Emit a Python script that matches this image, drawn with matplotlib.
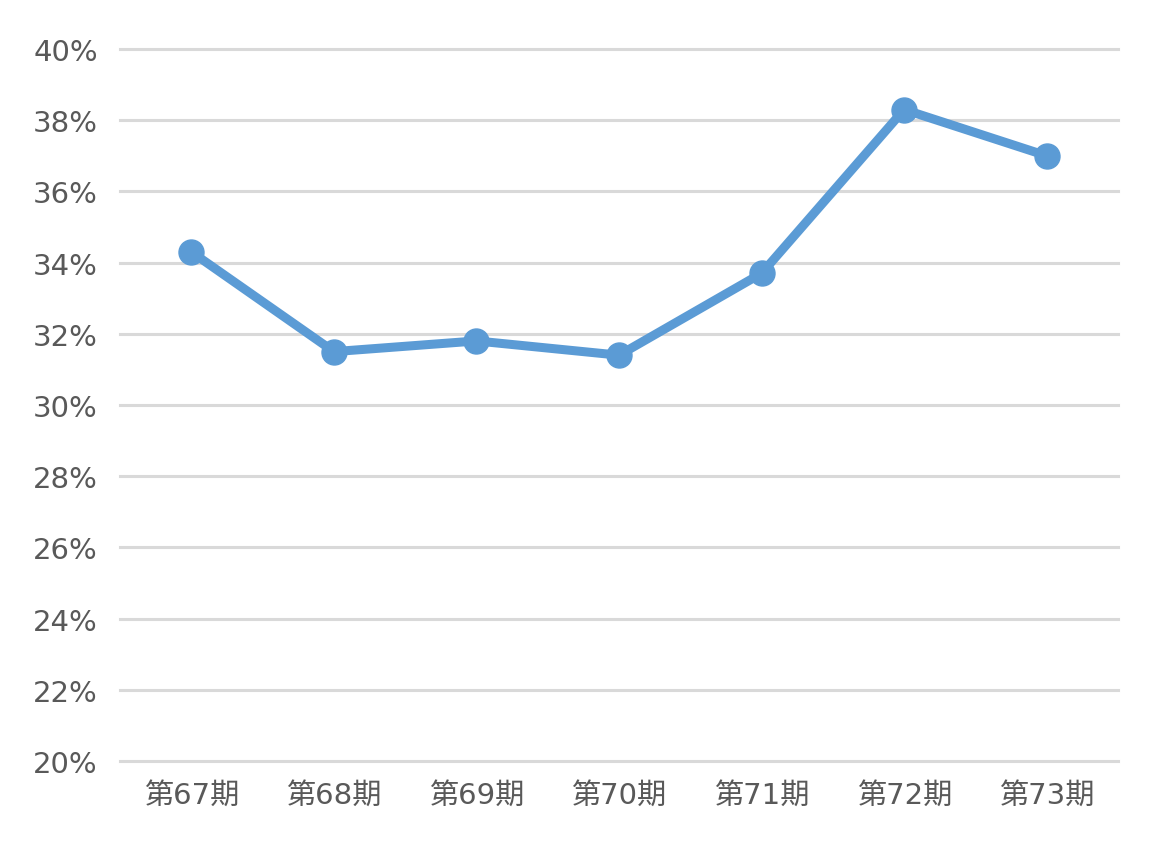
import matplotlib.pyplot as plt
from matplotlib.ticker import FuncFormatter

plt.rcParams['font.family'] = ['DejaVu Sans', 'Noto Sans CJK JP']

# data
periods = ['第67期', '第68期', '第69期', '第70期', '第71期', '第72期', '第73期']
ratio = [34.3, 31.5, 31.8, 31.4, 33.7, 38.3, 37.0]

fig = plt.figure(figsize=(11.69, 8.45), dpi=100)
ax = fig.add_axes([0.1027, 0.0982, 0.8537, 0.8426])

x = range(len(periods))
ax.plot(x, ratio, color='#5B9BD5', linewidth=6.5, marker='o', markersize=18,
        solid_joinstyle='round', zorder=3)

ax.set_xlim(-0.5, len(periods) - 0.5)
ax.set_ylim(20, 40)
ax.set_yticks(range(20, 41, 2))
ax.yaxis.set_major_formatter(FuncFormatter(lambda v, p: f'{v:.0f}%'))
ax.set_xticks(list(x))
ax.set_xticklabels(periods)

ax.grid(axis='y', color='#D9D9D9', linewidth=2.2)
for gl in ax.get_ygridlines():
    gl.set_clip_on(False)
ax.set_axisbelow(True)
for s in ax.spines.values():
    s.set_visible(False)
ax.tick_params(axis='both', length=0, labelsize=21, colors='#595959')
ax.tick_params(axis='y', pad=16)
ax.tick_params(axis='x', pad=14)

fig.savefig('out.png', dpi=100)
